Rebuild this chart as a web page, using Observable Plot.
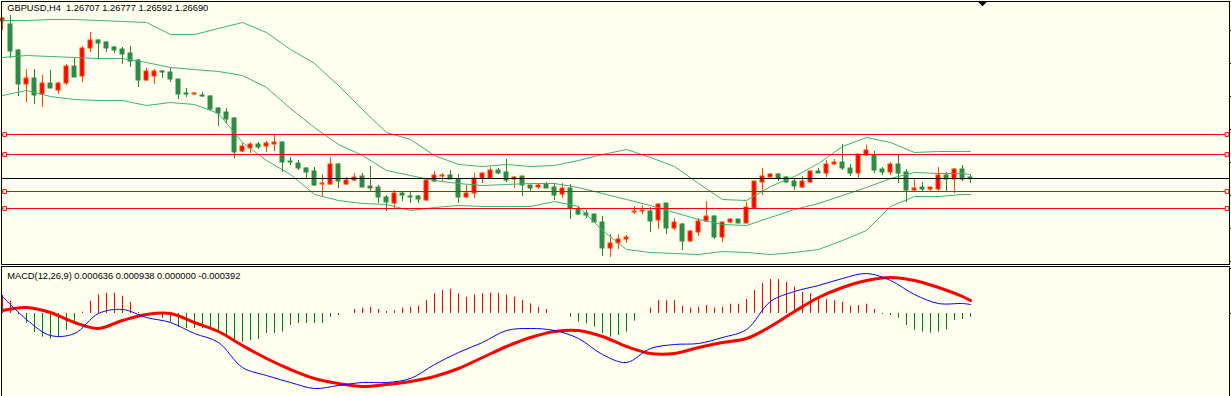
<!DOCTYPE html>
<html><head><meta charset="utf-8">
<script src="https://cdn.jsdelivr.net/npm/d3@7"></script>
<script src="https://cdn.jsdelivr.net/npm/@observablehq/plot@0.6"></script>
<style>
html,body{margin:0;padding:0;background:#FFFFF0;}
#wrap{position:relative;width:1231px;height:396px;overflow:hidden;background:#FFFFF0;}
#wrap svg{position:absolute;left:0;display:block;}
</style></head><body><div id="wrap"></div>
<script>
const titleText = "GBPUSD,H4 \u00a01.26707 1.26777 1.26592 1.26690";
const macdText = "MACD(12,26,9) 0.000636 0.000938 0.000000 -0.000392";

const open = [1.2826,1.2823,1.2797,1.2763,1.2769,1.2753,1.2764,1.2757,1.2764,1.2781,
1.2771,1.2799,1.2807,1.2805,1.2800,1.2798,1.2794,1.2787,1.2767,1.2771,
1.2776,1.2775,1.2768,1.2754,1.2753,1.2752,1.2751,1.2739,1.2735,1.2729,
1.2696,1.2699,1.2703,1.2701,1.2703,1.2705,1.2686,1.2684,1.2679,1.2676,
1.2663,1.2663,1.2683,1.2663,1.2667,1.2671,1.2661,1.2660,1.2650,1.2644,
1.2654,1.2651,1.2651,1.2647,1.2666,1.2671,1.2672,1.2668,1.2650,1.2654,
1.2669,1.2669,1.2677,1.2675,1.2668,1.2671,1.2662,1.2660,1.2663,1.2660,
1.2653,1.2659,1.2638,1.2634,1.2633,1.2625,1.2599,1.2604,1.2608,1.2635,
1.2636,1.2636,1.2627,1.2644,1.2619,1.2623,1.2606,1.2615,1.2626,1.2631,
1.2610,1.2625,1.2628,1.2624,1.2639,1.2665,1.2670,1.2673,1.2670,1.2666,
1.2660,1.2665,1.2676,1.2674,1.2683,1.2685,1.2679,1.2674,1.2692,1.2692,
1.2678,1.2675,1.2683,1.2675,1.2657,1.2660,1.2658,1.2658,1.2672,1.2668,
1.2678,1.2670];
const high = [1.2830,1.2832,1.2798,1.2778,1.2778,1.2772,1.2777,1.2765,1.2783,1.2789,
1.2801,1.2815,1.2808,1.2806,1.2801,1.2800,1.2801,1.2788,1.2779,1.2778,
1.2777,1.2779,1.2768,1.2759,1.2755,1.2755,1.2752,1.2740,1.2739,1.2730,
1.2704,1.2705,1.2705,1.2706,1.2713,1.2706,1.2690,1.2687,1.2680,1.2680,
1.2673,1.2690,1.2684,1.2670,1.2674,1.2674,1.2681,1.2662,1.2652,1.2657,
1.2656,1.2655,1.2652,1.2668,1.2676,1.2674,1.2677,1.2673,1.2662,1.2674,
1.2675,1.2680,1.2679,1.2688,1.2671,1.2671,1.2662,1.2664,1.2665,1.2664,
1.2664,1.2663,1.2641,1.2637,1.2633,1.2631,1.2613,1.2613,1.2612,1.2641,
1.2642,1.2640,1.2644,1.2644,1.2629,1.2624,1.2617,1.2629,1.2646,1.2632,
1.2625,1.2629,1.2628,1.2645,1.2666,1.2679,1.2674,1.2674,1.2671,1.2668,
1.2671,1.2677,1.2679,1.2687,1.2688,1.2703,1.2683,1.2693,1.2702,1.2696,
1.2680,1.2685,1.2692,1.2678,1.2669,1.2665,1.2660,1.2680,1.2675,1.2679,
1.2682,1.2672];
const low = [1.2817,1.2789,1.2751,1.2745,1.2743,1.2740,1.2759,1.2753,1.2762,1.2770,
1.2765,1.2795,1.2788,1.2795,1.2794,1.2783,1.2780,1.2760,1.2766,1.2763,
1.2769,1.2765,1.2748,1.2750,1.2752,1.2750,1.2737,1.2721,1.2724,1.2689,
1.2695,1.2694,1.2698,1.2695,1.2696,1.2675,1.2682,1.2677,1.2669,1.2661,
1.2650,1.2662,1.2659,1.2662,1.2666,1.2660,1.2656,1.2644,1.2636,1.2639,
1.2646,1.2644,1.2644,1.2646,1.2665,1.2666,1.2668,1.2644,1.2649,1.2649,
1.2664,1.2668,1.2673,1.2665,1.2659,1.2651,1.2656,1.2658,1.2659,1.2647,
1.2649,1.2628,1.2632,1.2629,1.2624,1.2591,1.2590,1.2598,1.2604,1.2633,
1.2633,1.2615,1.2618,1.2613,1.2617,1.2597,1.2605,1.2611,1.2625,1.2608,
1.2605,1.2624,1.2624,1.2624,1.2638,1.2652,1.2670,1.2666,1.2664,1.2657,
1.2659,1.2664,1.2674,1.2670,1.2682,1.2677,1.2671,1.2669,1.2691,1.2674,
1.2672,1.2672,1.2664,1.2645,1.2655,1.2655,1.2655,1.2655,1.2656,1.2654,
1.2666,1.2664];
const close = [1.2829,1.2796,1.2763,1.2769,1.2752,1.2764,1.2759,1.2764,1.2781,1.2770,
1.2799,1.2807,1.2804,1.2799,1.2797,1.2793,1.2786,1.2767,1.2776,1.2776,
1.2775,1.2768,1.2753,1.2753,1.2754,1.2751,1.2738,1.2734,1.2728,1.2695,
1.2701,1.2703,1.2700,1.2704,1.2705,1.2685,1.2685,1.2679,1.2675,1.2662,
1.2664,1.2683,1.2666,1.2667,1.2670,1.2660,1.2659,1.2650,1.2645,1.2654,
1.2652,1.2650,1.2648,1.2667,1.2672,1.2672,1.2668,1.2650,1.2654,1.2669,
1.2674,1.2677,1.2674,1.2667,1.2670,1.2662,1.2659,1.2662,1.2659,1.2652,
1.2659,1.2639,1.2633,1.2632,1.2625,1.2599,1.2604,1.2608,1.2610,1.2636,
1.2637,1.2626,1.2643,1.2619,1.2625,1.2606,1.2616,1.2626,1.2631,1.2610,
1.2625,1.2628,1.2624,1.2640,1.2666,1.2671,1.2673,1.2669,1.2665,1.2661,
1.2666,1.2676,1.2674,1.2683,1.2685,1.2679,1.2674,1.2693,1.2697,1.2677,
1.2675,1.2683,1.2674,1.2657,1.2659,1.2658,1.2660,1.2672,1.2668,1.2678,
1.2668,1.2669];

// Bollinger Bands (20,2) sampled at bar indices
const bbIdx = [0,3,6,9,12,15,18,21,24,27,30,33,36,39,42,45,48,51,54,57,60,63,66,69,72,75,78,81,84,87,90,93,96,99,102,105,108,111,114,117,120,121];
const bbUpper = [1.2827,1.2827,1.2828,1.2828,1.2827,1.2826,1.2825,1.2813,1.2813,1.2819,1.2825,1.2815,1.2798,1.2784,1.2762,1.2738,1.2715,1.2708,1.2692,1.2683,1.2681,1.2683,1.2681,1.2682,1.2687,1.2693,1.2698,1.2690,1.2681,1.2664,1.2648,1.2647,1.2661,1.2671,1.2684,1.2701,1.2710,1.2705,1.2695,1.2696,1.2696,1.2696];
const bbMiddle = [1.2790,1.2792,1.2791,1.2790,1.2789,1.2789,1.2785,1.2780,1.2778,1.2776,1.2772,1.2760,1.2739,1.2720,1.2703,1.2692,1.2677,1.2672,1.2667,1.2664,1.2662,1.2663,1.2664,1.2664,1.2660,1.2654,1.2648,1.2642,1.2635,1.2628,1.2623,1.2622,1.2630,1.2638,1.2644,1.2652,1.2660,1.2669,1.2675,1.2674,1.2674,1.2673];
const bbLower = [1.2752,1.2757,1.2751,1.2748,1.2747,1.2747,1.2742,1.2745,1.2743,1.2734,1.2705,1.2687,1.2673,1.2653,1.2647,1.2644,1.2643,1.2637,1.2640,1.2642,1.2641,1.2641,1.2641,1.2646,1.2641,1.2617,1.2598,1.2595,1.2594,1.2593,1.2596,1.2595,1.2593,1.2595,1.2598,1.2607,1.2617,1.2641,1.2651,1.2651,1.2653,1.2653];

// horizontal levels
const hLevels = [1.2713, 1.2693, 1.2656, 1.2639];
const bidPrice = 1.2669;
const priceTicks = [1.2817, 1.2784, 1.2751, 1.2718, 1.2685, 1.2652, 1.2619, 1.2586];
const chartShift = [122.5];

// MACD
const macdLine = [0.00119,-0.00042,-0.00154,-0.00140,0.00000,0.00028,-0.00028,-0.00063,-0.00140,-0.00203,-0.00378,-0.00434,-0.00483,-0.00525,-0.00504,-0.00483,-0.00483,-0.00455,-0.00357,-0.00273,-0.00203,-0.00119,-0.00105,-0.00119,-0.00175,-0.00287,-0.00343,-0.00245,-0.00217,-0.00210,-0.00168,-0.00112,0.00084,0.00154,0.00196,0.00245,0.00280,0.00231,0.00133,0.00070,0.00070,0.00063];
const signalLine = [0.00021,0.00042,0.00007,-0.00063,-0.00105,-0.00049,-0.00007,0.00000,-0.00063,-0.00126,-0.00224,-0.00315,-0.00392,-0.00455,-0.00490,-0.00511,-0.00497,-0.00476,-0.00441,-0.00385,-0.00308,-0.00231,-0.00168,-0.00126,-0.00119,-0.00161,-0.00231,-0.00280,-0.00280,-0.00238,-0.00203,-0.00175,-0.00091,0.00014,0.00112,0.00182,0.00231,0.00252,0.00231,0.00182,0.00119,0.00091];
const histogram = [0.00126,0.00086,-0.00007,-0.00068,-0.00133,-0.00166,-0.00180,-0.00168,-0.00119,-0.00070,
0.00009,0.00086,0.00131,0.00142,0.00142,0.00121,0.00079,0.00007,-0.00014,-0.00014,
-0.00035,-0.00061,-0.00096,-0.00105,-0.00105,-0.00105,-0.00112,-0.00131,-0.00154,-0.00189,
-0.00201,-0.00189,-0.00182,-0.00140,-0.00140,-0.00131,-0.00084,-0.00070,-0.00070,-0.00070,
-0.00070,-0.00026,-0.00014,0.00000,0.00028,0.00037,0.00044,0.00028,0.00014,0.00021,
0.00037,0.00044,0.00051,0.00091,0.00138,0.00161,0.00170,0.00138,0.00114,0.00131,
0.00138,0.00142,0.00142,0.00128,0.00114,0.00091,0.00068,0.00044,0.00028,0.00000,
0.00000,-0.00026,-0.00061,-0.00072,-0.00096,-0.00142,-0.00166,-0.00154,-0.00131,-0.00054,
0.00000,0.00037,0.00091,0.00089,0.00091,0.00049,0.00037,0.00044,0.00056,0.00037,
0.00044,0.00065,0.00065,0.00098,0.00161,0.00212,0.00238,0.00238,0.00217,0.00184,
0.00149,0.00138,0.00114,0.00098,0.00091,0.00079,0.00051,0.00056,0.00065,0.00028,
-0.00007,-0.00014,-0.00033,-0.00084,-0.00119,-0.00131,-0.00138,-0.00131,-0.00114,-0.00049,
-0.00042,-0.00026];
const macdTicks = [0.00315, 0];

const BG = "#FFFFF0";
const FONT = "Liberation Sans, Arial, sans-serif";
const candles = open.map((o, i) => ({i, open: o, high: high[i], low: low[i], close: close[i], up: close[i] > o}));
const bands = bbIdx.map((i, k) => ({i, upper: bbUpper[k], middle: bbMiddle[k], lower: bbLower[k]}));
const macdData = bbIdx.map((i, k) => ({i, macd: macdLine[k], signal: signalLine[k]}));
const histData = histogram.map((v, i) => ({i, v}));

// flat, downward-pointing marker (chart-shift flag)
const flatTriangle = {
  draw(context, size) {
    const r = Math.sqrt(size / Math.PI);
    context.moveTo(-r, -r * 0.5);
    context.lineTo(r, -r * 0.5);
    context.lineTo(0, r * 0.5);
    context.closePath();
  }
};

const bandColor = "#3CB371";
const main = Plot.plot({
  width: 1231, height: 265,
  marginLeft: 1, marginRight: 2, marginTop: 1, marginBottom: 1,
  x: {type: "linear", domain: [0, 121], range: [2, 970], axis: null},
  y: {domain: [1.2582, 1.2847], range: [265, 0], axis: null},
  style: {background: BG, fontFamily: FONT},
  marks: [
    Plot.ruleX(candles, {x: "i", y1: "low", y2: "high", stroke: d => d.up ? "#FF4500" : "#228B22", strokeWidth: 1}),
    Plot.rect(candles, {x1: d => d.i - 0.25, x2: d => d.i + 0.25, y1: "open", y2: "close",
      fill: d => d.up ? "#FF0000" : "#2E8B44", stroke: d => d.up ? "#FF4500" : "#2E8B44", strokeWidth: 1}),
    Plot.line(bands, {x: "i", y: "upper", stroke: bandColor, strokeWidth: 1}),
    Plot.line(bands, {x: "i", y: "middle", stroke: bandColor, strokeWidth: 1}),
    Plot.line(bands, {x: "i", y: "lower", stroke: bandColor, strokeWidth: 1}),
    Plot.ruleY(hLevels, {stroke: "#FF0000", strokeWidth: 1}),
    Plot.ruleY([bidPrice], {stroke: "#000000", strokeWidth: 1}),
    Plot.dot(hLevels, {y: d => d, frameAnchor: "left", dx: 3.2, symbol: "square", r: 2.1, stroke: "#FF0000", strokeWidth: 1, fill: BG}),
    Plot.dot(hLevels, {y: d => d, frameAnchor: "right", dx: -2.5, symbol: "square", r: 2.1, stroke: "#FF0000", strokeWidth: 1, fill: BG}),
    Plot.dot(chartShift, {x: d => d, frameAnchor: "top", dy: 2.2, symbol: flatTriangle, r: 5, fill: "#000", stroke: null}),
    Plot.axisY(priceTicks, {anchor: "right", tickSize: 3, tickFormat: () => "", label: null, stroke: "#000"}),
    Plot.frame({stroke: "#000"}),
    Plot.text([titleText], {text: d => d, frameAnchor: "top-left", dx: 5.7, dy: 3.2, lineAnchor: "top", textAnchor: "start",
      fontSize: 9.3, fontFamily: FONT, fill: "#000"})
  ]
});
main.style.top = "0px";

const macd = Plot.plot({
  width: 1231, height: 131,
  marginLeft: 1, marginRight: 2, marginTop: 1, marginBottom: 0,
  x: {type: "linear", domain: [0, 121], range: [2, 970], axis: null},
  y: {domain: [-0.00581, 0.00336], range: [131, 0], axis: null},
  style: {background: BG, fontFamily: FONT},
  marks: [
    Plot.ruleX(histData, {x: "i", y1: 0, y2: "v", stroke: d => d.v >= 0 ? "#FF0000" : "#008000", strokeWidth: 1}),
    Plot.line(macdData, {x: "i", y: "signal", stroke: "#FF0000", strokeWidth: 3, curve: "catmull-rom"}),
    Plot.line(macdData, {x: "i", y: "macd", stroke: "#0000FF", strokeWidth: 1, curve: "catmull-rom"}),
    Plot.axisY(macdTicks, {anchor: "right", tickSize: 3, tickFormat: () => "", label: null, stroke: "#000"}),
    Plot.frame({stroke: "#000"}),
    Plot.text([macdText], {text: d => d, frameAnchor: "top-left", dx: 5.7, dy: 6, lineAnchor: "top", textAnchor: "start",
      fontSize: 9.3, fontFamily: FONT, fill: "#000"})
  ]
});
macd.style.top = "265px";

const wrap = document.getElementById("wrap");
wrap.appendChild(main);
wrap.appendChild(macd);
</script></body></html>
